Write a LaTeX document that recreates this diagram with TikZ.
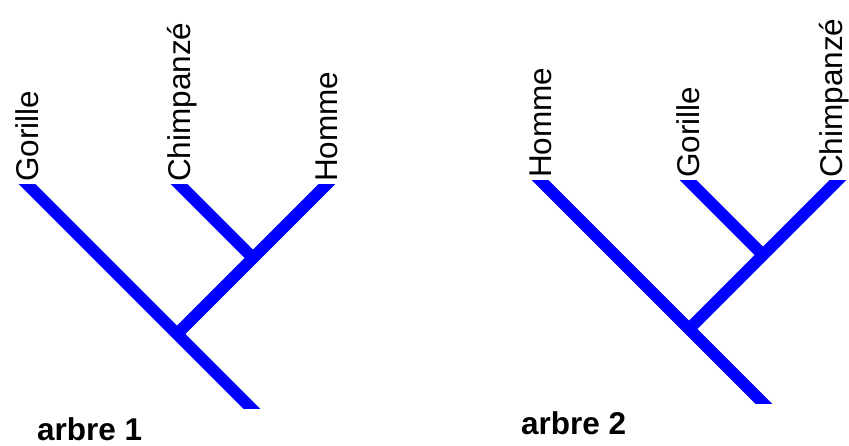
\documentclass[tikz,border=0pt]{standalone}
\usepackage{fontspec}
\setmainfont{Liberation Sans}
\newcommand{\lblsize}{\fontsize{31.5}{36}\selectfont}

\begin{document}
\begin{tikzpicture}[x=1pt,y=-1pt,
   branch/.style={draw=blue,line width=12pt},
   tiplabel/.style={rotate=90,anchor=base west,inner sep=0pt,font=\lblsize},
   treename/.style={anchor=base west,inner sep=0pt,font=\lblsize\bfseries}]
   \useasboundingbox (0,0) rectangle (849,446);
   % arbre 1
   \coordinate (g1) at (28,185);
   \coordinate (c1) at (180,185);
   \coordinate (h1) at (326,185);
   \coordinate (r1) at (251,408);
   \coordinate (ja1) at (177,334);
   \coordinate (jb1) at (253,258);
   \begin{scope}
    \clip (0,185) rectangle (430,408);
    \draw[branch,shorten <=-8pt,shorten >=-8pt] (g1) -- (r1);
    \draw[branch,shorten <=-8pt] (h1) -- (ja1);
    \draw[branch,shorten <=-8pt] (c1) -- (jb1);
   \end{scope}
   \node[tiplabel] (lg1) at ([xshift=10pt,yshift=3pt]g1) {Gorille};
   \node[tiplabel] (lc1) at ([xshift=10pt,yshift=3pt]c1) {Chimpanzé};
   \node[tiplabel] (lh1) at ([xshift=11pt,yshift=3pt]h1) {Homme};
   \node[treename] (t1) at (37,440) {arbre 1};
   % arbre 2
   \coordinate (h2) at (541,181);
   \coordinate (g2) at (689,181);
   \coordinate (c2) at (837,181);
   \coordinate (r2) at (763,403);
   \coordinate (ja2) at (689,329);
   \coordinate (jb2) at (763,255);
   \begin{scope}
    \clip (500,181) rectangle (849,403);
    \draw[branch,shorten <=-8pt,shorten >=-8pt] (h2) -- (r2);
    \draw[branch,shorten <=-8pt] (c2) -- (ja2);
    \draw[branch,shorten <=-8pt] (g2) -- (jb2);
   \end{scope}
   \node[tiplabel] (lh2) at ([xshift=10pt,yshift=3pt]h2) {Homme};
   \node[tiplabel] (lg2) at ([xshift=10pt,yshift=3pt]g2) {Gorille};
   \node[tiplabel] (lc2) at ([xshift=5pt,yshift=3pt]c2) {Chimpanzé};
   \node[treename] (t2) at (521,434) {arbre 2};
\end{tikzpicture}
\end{document}
